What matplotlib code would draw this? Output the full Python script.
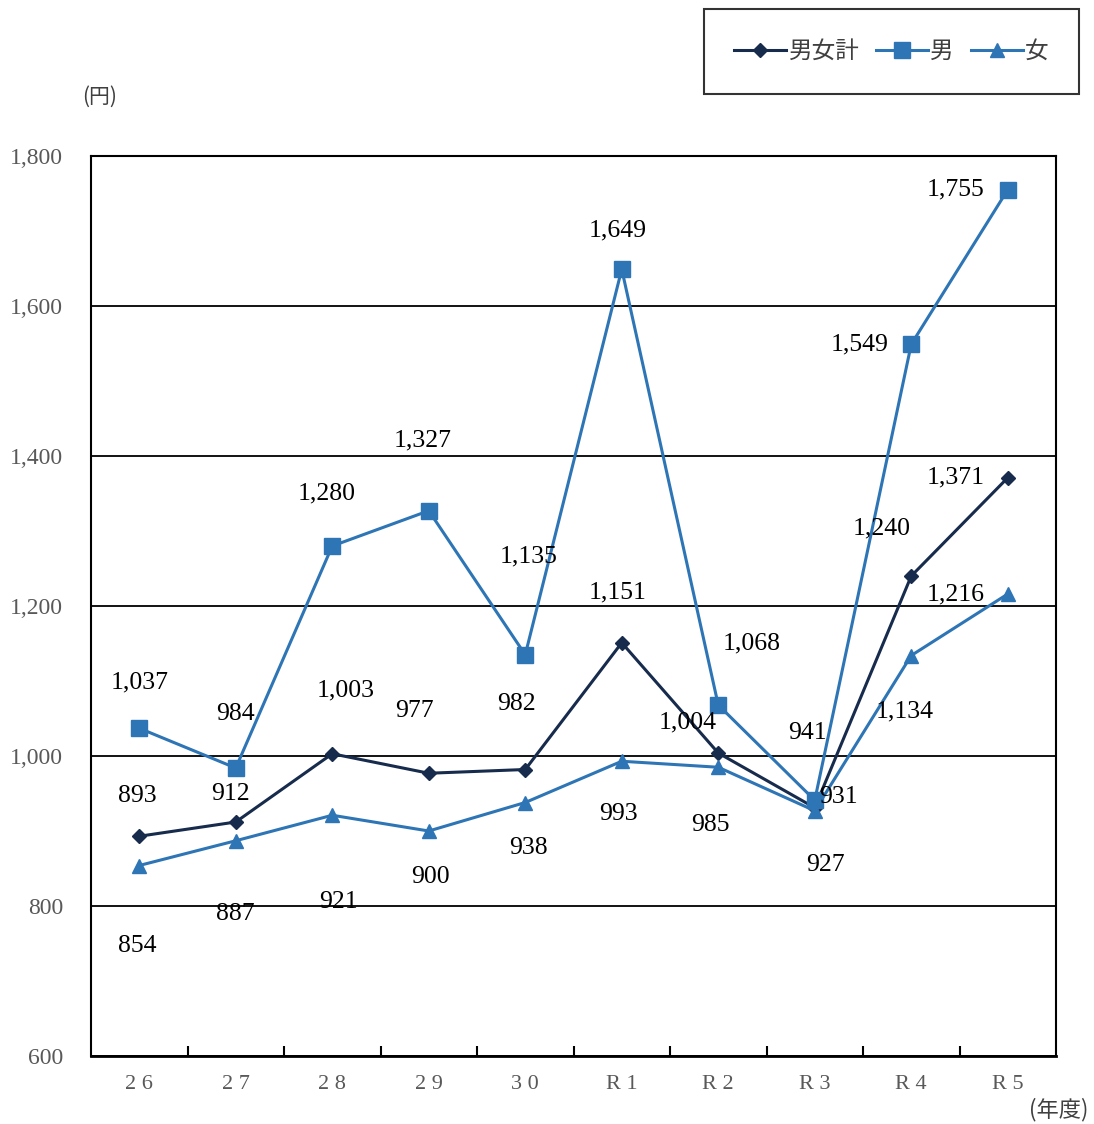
import matplotlib.pyplot as plt

# データ
nendo = ['2 6', '2 7', '2 8', '2 9', '3 0', 'R 1', 'R 2', 'R 3', 'R 4', 'R 5']
goukei = [893, 912, 1003, 977, 982, 1151, 1004, 931, 1240, 1371]
otoko = [1037, 984, 1280, 1327, 1135, 1649, 1068, 941, 1549, 1755]
onna = [854, 887, 921, 900, 938, 993, 985, 927, 1134, 1216]

# ラベルの位置 (ピクセル, 点からのずれ)
off_goukei = [(-2, 40), (-5, 28), (13, 63), (-14, 62), (-9, 65),
              (-4, 50), (-31, 31), (24, 11), (-30, 48), (-52, 0)]
off_otoko = [(0, 46), (0, 54), (-6, 53), (-6, 70), (3, 98),
             (-4, 39), (33, 62), (-7, 67), (-52, 0), (-52, 0)]
off_onna = [(-2, -80), (0, -73), (6, -87), (2, -46), (3, -46),
            (-3, -53), (-8, -58), (11, -54), (-7, -56), (-52, 0)]

navy = '#172b4d'
blue = '#2e75b6'
gray = '#595959'
jp = ['Noto Sans CJK JP', 'DejaVu Sans']
serif = 'Liberation Serif'

fig = plt.figure(figsize=(10.94, 11.24), dpi=100)
ax = fig.add_axes([91 / 1094, 68 / 1124, 965 / 1094, 900 / 1124])

x = list(range(len(nendo)))
ax.plot(x, goukei, color=navy, lw=2.2, marker='D', ms=7, label='男女計', zorder=3)
ax.plot(x, otoko, color=blue, lw=2.2, marker='s', ms=11, label='男', zorder=4)
ax.plot(x, onna, color=blue, lw=2.2, marker='^', ms=10, label='女', zorder=5)

for vals, offs in [(goukei, off_goukei), (otoko, off_otoko), (onna, off_onna)]:
    for i, v in enumerate(vals):
        ax.annotate(f'{v:,}', (i, v), xytext=offs[i], textcoords='offset pixels',
                    ha='center', va='center', fontsize=18.5, family=serif, color='black',
                    zorder=6)

ax.set_xlim(-0.5, 9.5)
ax.set_ylim(600, 1800)
ax.set_yticks(range(600, 1801, 200))
ax.set_yticklabels([f'{t:,}' for t in range(600, 1801, 200)], family=serif,
                   fontsize=17, color=gray)
ax.tick_params(axis='y', length=0, pad=20)
ax.grid(axis='y', color='black', lw=1.3)
ax.set_axisbelow(True)

ax.set_xticks(x)
ax.set_xticklabels(nendo, family=serif, fontsize=16, color=gray)
ax.tick_params(axis='x', length=0, pad=14)
ax.set_xticks([i + 0.5 for i in range(len(nendo) - 1)], minor=True)
ax.tick_params(axis='x', which='minor', direction='in', length=7, width=1.5, color='black')

for s in ax.spines.values():
    s.set_color('black')
    s.set_linewidth(1.5)
ax.spines['bottom'].set_linewidth(2)

fig.text(100 / 1094, 1 - 97 / 1124, '(円)', family=jp, fontsize=15, color='#404040',
         ha='center', va='center')
fig.text(1059 / 1094, 1 - 1110 / 1124, '(年度)', family=jp, fontsize=16, color='#404040',
         ha='center', va='center')

leg = fig.legend(loc='center', bbox_to_anchor=(891.5 / 1094, 1 - 51.5 / 1124), ncol=3,
                 prop={'family': jp, 'size': 17}, frameon=True, fancybox=False,
                 edgecolor='black', handlelength=2.2, handletextpad=0.1,
                 columnspacing=0.7, borderpad=1.3)
leg.get_frame().set_linewidth(1.5)
for t in leg.get_texts():
    t.set_color('#404040')

fig.savefig('out.png', dpi=100)
